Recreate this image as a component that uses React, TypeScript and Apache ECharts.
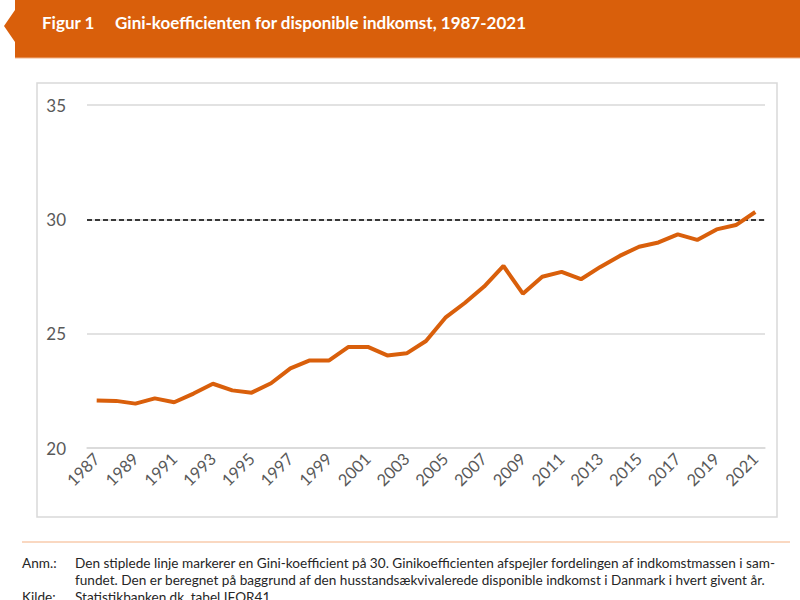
import React, { useEffect, useRef } from "react";
import * as echarts from "echarts";

const years = [
  "1987","1988","1989","1990","1991","1992","1993","1994","1995","1996",
  "1997","1998","1999","2000","2001","2002","2003","2004","2005","2006",
  "2007","2008","2009","2010","2011","2012","2013","2014","2015","2016",
  "2017","2018","2019","2020","2021",
];
const gini = [
  22.08, 22.06, 21.94, 22.17, 22.0, 22.38, 22.81, 22.52, 22.42, 22.83,
  23.48, 23.83, 23.83, 24.42, 24.42, 24.05, 24.14, 24.68, 25.7, 26.34,
  27.06, 27.96, 26.75, 27.49, 27.7, 27.38, 27.92, 28.4, 28.8, 28.99,
  29.34, 29.1, 29.56, 29.75, 30.32,
];
const referenceLevel = 30;
const titleLabel = "Figur 1";
const titleText = "Gini-koefficienten for disponible indkomst, 1987-2021";
const noteLines = [
  "Den stiplede linje markerer en Gini-koefficient på 30. Ginikoefficienten afspejler fordelingen af indkomstmassen i sam-",
  "fundet. Den er beregnet på baggrund af den husstandsækvivalerede disponible indkomst i Danmark i hvert givent år.",
];
const sourceText = "Statistikbanken.dk, tabel IFOR41.";

const ORANGE = "#D95F0B";
const FONT = "Lato, 'Open Sans', sans-serif";
const NOTE_FONT = `13.6px ${FONT}`;

export default function App() {
  const ref = useRef<HTMLDivElement>(null);
  useEffect(() => {
    if (!ref.current) return;
    const chart = echarts.init(ref.current, null, { renderer: "svg" });
    chart.setOption({
      animation: false,
      backgroundColor: "#ffffff",
      textStyle: { fontFamily: FONT },
      grid: { left: 87, right: 35, top: 105, bottom: 152 },
      xAxis: {
        type: "category",
        data: years,
        boundaryGap: true,
        axisLine: { show: true, lineStyle: { color: "#d9d9d9", width: 1.5 } },
        axisTick: { show: false },
        axisLabel: {
          interval: 1,
          rotate: 45,
          color: "#595959",
          fontSize: 16.5,
          fontFamily: FONT,
          margin: 8,
        },
      },
      yAxis: {
        type: "value",
        min: 20,
        max: 35,
        interval: 5,
        axisLine: { show: false },
        axisTick: { show: false },
        splitLine: { lineStyle: { color: "#d9d9d9", width: 1.5 } },
        axisLabel: { color: "#595959", fontSize: 17, fontFamily: FONT, margin: 21 },
      },
      series: [
        {
          type: "line",
          data: gini,
          symbol: "none",
          lineStyle: { color: ORANGE, width: 4 },
          z: 3,
          markLine: {
            silent: true,
            symbol: "none",
            label: { show: false },
            lineStyle: { color: "#000000", type: [5, 3], width: 1.5 },
            data: [{ yAxis: referenceLevel }],
            z: 2,
          },
        },
      ],
      graphic: [
        {
          type: "polygon",
          shape: {
            points: [
              [15, 0], [800, 0], [800, 58], [15, 58], [15, 42], [4, 26], [15, 10],
            ],
          },
          style: { fill: ORANGE },
        },
        {
          type: "line",
          shape: { x1: 15, y1: 58, x2: 800, y2: 58 },
          style: { stroke: "#F2B48A", lineWidth: 1 },
        },
        {
          type: "text",
          x: 42,
          y: 22,
          style: {
            text: titleLabel,
            fill: "#ffffff",
            font: `bold 17px ${FONT}`,
            verticalAlign: "middle",
          },
        },
        {
          type: "text",
          x: 115,
          y: 22,
          style: {
            text: titleText,
            fill: "#ffffff",
            font: `bold 17px ${FONT}`,
            verticalAlign: "middle",
          },
        },
        {
          type: "rect",
          shape: { x: 37, y: 83, width: 740, height: 434 },
          style: { fill: "none", stroke: "#d9d9d9", lineWidth: 1.5 },
          z: -1,
        },
        {
          type: "line",
          shape: { x1: 22, y1: 542, x2: 790, y2: 542 },
          style: { stroke: "#F4B183", lineWidth: 1 },
        },
        {
          type: "text",
          x: 22,
          y: 563,
          style: { text: "Anm.:", fill: "#262626", font: NOTE_FONT, verticalAlign: "middle" },
        },
        {
          type: "text",
          x: 75,
          y: 563,
          style: { text: noteLines[0], fill: "#262626", font: NOTE_FONT, verticalAlign: "middle" },
        },
        {
          type: "text",
          x: 75,
          y: 580,
          style: { text: noteLines[1], fill: "#262626", font: NOTE_FONT, verticalAlign: "middle" },
        },
        {
          type: "text",
          x: 22,
          y: 597,
          style: { text: "Kilde:", fill: "#262626", font: NOTE_FONT, verticalAlign: "middle" },
        },
        {
          type: "text",
          x: 75,
          y: 597,
          style: { text: sourceText, fill: "#262626", font: NOTE_FONT, verticalAlign: "middle" },
        },
      ],
    });
    return () => chart.dispose();
  }, []);
  return (
    <div
      ref={ref}
      style={{ position: "fixed", left: 0, top: 0, width: 800, height: 600 }}
    />
  );
}
